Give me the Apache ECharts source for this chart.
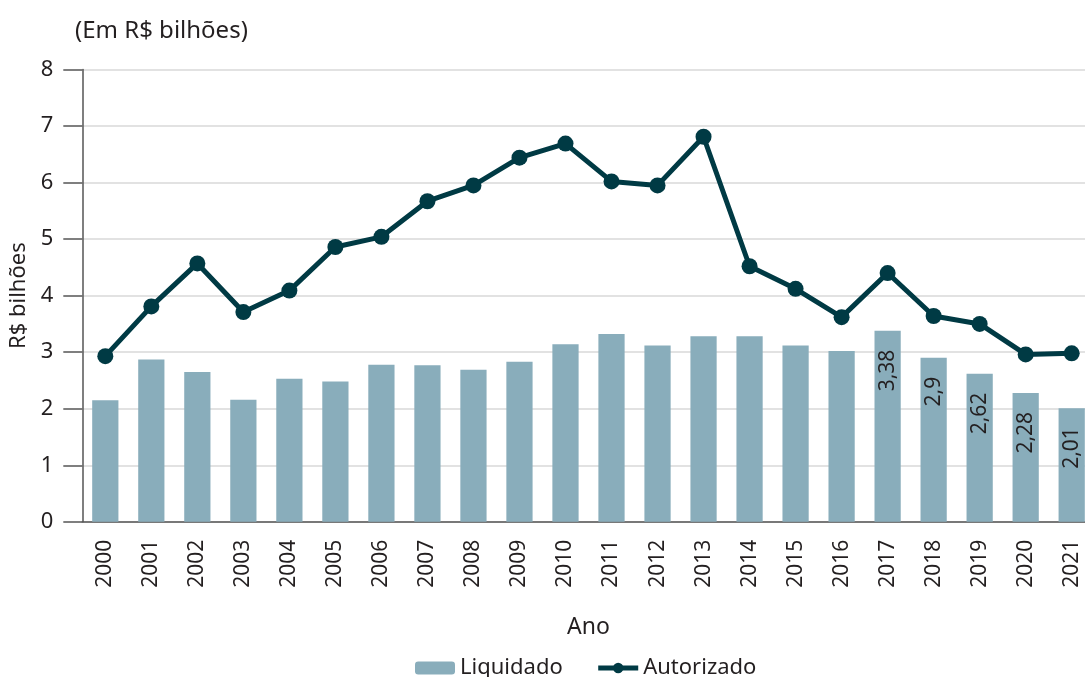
<!DOCTYPE html>
<html>
<head>
<meta charset="utf-8">
<script src="https://cdn.jsdelivr.net/npm/echarts@6/dist/echarts.min.js"></script>
<style>
  html, body { margin: 0; padding: 0; background: #fff; }
  #chart { width: 1085px; height: 677px; }
</style>
</head>
<body>
<div id="chart"></div>
<script>
const years = ['2000', '2001', '2002', '2003', '2004', '2005', '2006', '2007', '2008', '2009', '2010',
  '2011', '2012', '2013', '2014', '2015', '2016', '2017', '2018', '2019', '2020', '2021'];
const liquidado = [2.15, 2.87, 2.65, 2.16, 2.53, 2.48, 2.78, 2.77, 2.69, 2.83, 3.14,
  3.32, 3.12, 3.28, 3.28, 3.12, 3.02, 3.38, 2.9, 2.62, 2.28, 2.01];
const autorizado = [2.93, 3.81, 4.57, 3.71, 4.09, 4.86, 5.04, 5.67, 5.95, 6.44, 6.69,
  6.02, 5.95, 6.81, 4.52, 4.12, 3.62, 4.40, 3.64, 3.50, 2.96, 2.98];
// only the last years carry a value label
const labelledYears = ['2017', '2018', '2019', '2020', '2021'];

const chart = echarts.init(document.getElementById('chart'));
const font = 'Noto Sans';
const textColor = '#231f20';

const barData = liquidado.map((v, i) => ({
  value: v,
  label: { show: labelledYears.includes(years[i]) },
}));

// the original picture is cut on the right, so the plot runs a bit past the edge
const option = {
  animation: false,
  textStyle: { fontFamily: font },
  title: {
    text: '(Em R$ bilhões)',
    left: 70,
    top: 14,
    textStyle: { fontFamily: font, fontSize: 24, fontWeight: 'normal', color: textColor },
  },
  grid: { left: 82.3, right: -9.7, top: 69.5, bottom: 155.2, outerBoundsMode: 'none' },
  legend: {
    top: 652,
    left: 410,
    itemWidth: 40,
    itemHeight: 13,
    itemGap: 33,
    textStyle: { fontFamily: font, fontSize: 22, color: textColor },
    lineStyle: { width: 5 },
    data: ['Liquidado', 'Autorizado'],
  },
  xAxis: {
    type: 'category',
    data: years,
    name: 'Ano',
    nameLocation: 'middle',
    nameGap: 94,
    nameTextStyle: { fontFamily: font, fontSize: 23, color: textColor },
    axisLine: { lineStyle: { color: '#555', width: 1.5 } },
    axisTick: { alignWithLabel: false, length: 19, lineStyle: { color: '#555', width: 1.5 } },
    axisLabel: { rotate: 90, margin: 18, fontSize: 21, color: textColor, fontFamily: font },
  },
  yAxis: {
    type: 'value',
    min: 0,
    max: 8,
    interval: 1,
    name: 'R$ bilhões',
    nameLocation: 'middle',
    nameGap: 52,
    nameTextStyle: { fontFamily: font, fontSize: 22, color: textColor },
    axisLine: { show: true, lineStyle: { color: '#555', width: 1.5 } },
    axisTick: { show: true, length: 19, lineStyle: { color: '#555', width: 1.5 } },
    axisLabel: { margin: 29, fontSize: 22, color: textColor, fontFamily: font },
    splitLine: { lineStyle: { color: '#d9d9d9', width: 1.5 } },
  },
  series: [
    {
      name: 'Liquidado',
      type: 'bar',
      data: barData,
      barWidth: '57%',
      itemStyle: { color: '#89adbb' },
      label: {
        position: 'insideTop',
        rotate: 90,
        align: 'right',
        verticalAlign: 'middle',
        distance: 19,
        fontSize: 21,
        color: textColor,
        fontFamily: font,
        formatter: (p) => String(p.value).replace('.', ','),
      },
    },
    {
      name: 'Autorizado',
      type: 'line',
      data: autorizado,
      symbol: 'circle',
      symbolSize: 16,
      lineStyle: { color: '#003a44', width: 5 },
      itemStyle: { color: '#003a44' },
      z: 5,
    },
  ],
};

chart.setOption(option);
</script>
</body>
</html>
